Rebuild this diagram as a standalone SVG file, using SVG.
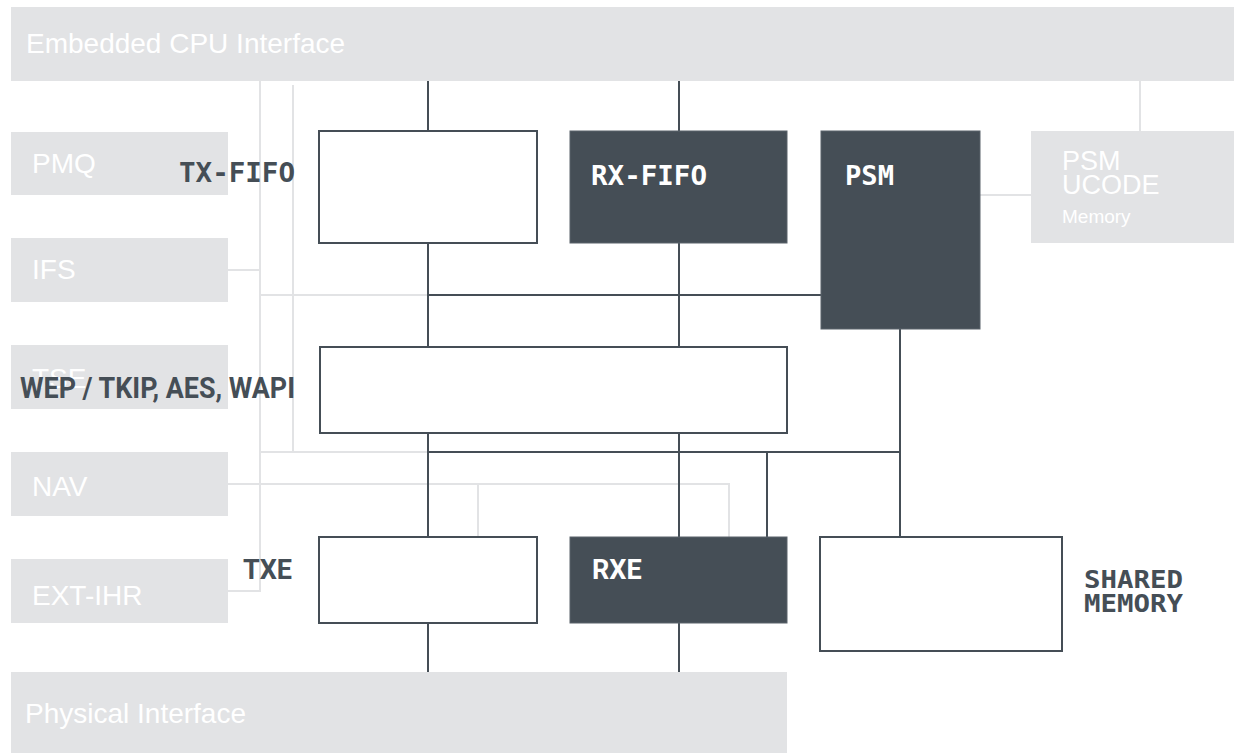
<svg xmlns="http://www.w3.org/2000/svg" width="1234" height="753" viewBox="0 0 1234 753">
<style>
.g{fill:#e2e3e5}
.ob{fill:#ffffff;stroke:#454e56;stroke-width:2}
.db{fill:#454e56;stroke:#5a636b;stroke-width:1}
.lt{fill:#ffffff;font-family:"Liberation Sans",Arial,sans-serif;font-size:28px}
.lt27{font-size:27px}
.lt19{font-size:19px}
.mono{font-family:"DejaVu Sans Mono","Liberation Mono",monospace;font-weight:bold;font-size:27px}
.mono25{font-size:25px}
.rb{font-family:Roboto,"Liberation Sans",sans-serif;font-weight:bold;font-size:27px}
.rb29{font-size:29px}
.dk{fill:#454e56}
.wh{fill:#ffffff}
.ll{stroke:#e2e3e5;stroke-width:2;fill:none}
.dl{stroke:#454e56;stroke-width:2;fill:none}
</style>
<rect width="1234" height="753" fill="#ffffff"/>
<g id="connectors">
<path class="ll" d="M260 81V591H228M228 270H260M293 85V452M260 295H428M260 452H428M228 484H729V537M478 484V537M980 195H1031M1140 81V131"/>
<path class="dl" d="M428 81V131M679 81V131M428 243V347M679 243V347M429 295H821M428 433V537M679 433V537M428 452H900M900 329V537M767 452V537M428 623V672M679 623V672"/>
</g>
<g id="cpu"><rect class="g" x="11" y="7" width="1223" height="74"/><text class="lt" x="26" y="53">Embedded CPU Interface</text></g>
<g id="pmq"><rect class="g" x="11" y="132" width="217" height="63"/><text class="lt" x="32" y="173">PMQ</text></g>
<g id="ifs"><rect class="g" x="11" y="238" width="217" height="64"/><text class="lt" x="32" y="279">IFS</text></g>
<g id="tse"><rect class="g" x="11" y="345" width="217" height="64"/><text class="lt" x="32" y="388">TSE</text></g>
<g id="nav"><rect class="g" x="11" y="452" width="217" height="64"/><text class="lt" x="32" y="496">NAV</text></g>
<g id="extihr"><rect class="g" x="11" y="559" width="217" height="64"/><text class="lt" x="32" y="605">EXT-IHR</text></g>
<g id="phy"><rect class="g" x="11" y="672" width="776" height="81"/><text class="lt" x="25" y="723">Physical Interface</text></g>
<g id="ucode"><rect class="g" x="1031" y="131" width="203" height="112"/><text class="lt lt27" x="1062" y="170">PSM</text><text class="lt lt27" x="1062" y="194">UCODE</text><text class="lt lt19" x="1062" y="223">Memory</text></g>
<g id="txfifo"><rect class="ob" x="319" y="131" width="218" height="112"/><text class="mono dk" x="179" y="182" textLength="116" lengthAdjust="spacingAndGlyphs">TX-FIFO</text></g>
<g id="rxfifo"><rect class="db" x="570" y="131" width="217" height="112"/><text class="mono wh" x="591" y="184.5" textLength="116" lengthAdjust="spacingAndGlyphs">RX-FIFO</text></g>
<g id="psm"><rect class="db" x="821" y="131" width="159" height="198"/><text class="mono wh" x="845" y="184.5" textLength="49" lengthAdjust="spacingAndGlyphs">PSM</text></g>
<g id="wep"><rect class="ob" x="320" y="347" width="467" height="86"/><text class="rb rb29 dk" x="20" y="398" textLength="275" lengthAdjust="spacingAndGlyphs">WEP / TKIP, AES, WAPI</text></g>
<g id="txe"><rect class="ob" x="319" y="537" width="218" height="86"/><text class="rb dk" x="243" y="578.5">TXE</text></g>
<g id="rxe"><rect class="db" x="570" y="537" width="217" height="86"/><text class="rb wh" x="592" y="578.5">RXE</text></g>
<g id="shmem"><rect class="ob" x="820" y="537" width="242" height="114"/><text class="mono mono25 dk" x="1084" y="588" textLength="99" lengthAdjust="spacingAndGlyphs">SHARED</text><text class="mono mono25 dk" x="1084" y="612" textLength="99" lengthAdjust="spacingAndGlyphs">MEMORY</text></g>
</svg>
